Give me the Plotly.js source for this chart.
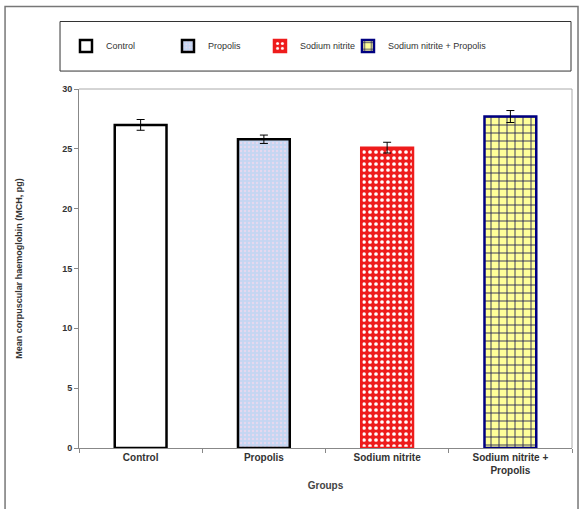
<!DOCTYPE html>
<html><head><meta charset="utf-8">
<script src="https://cdn.plot.ly/plotly-3.0.1.min.js"></script>
<style>body{margin:0;background:#fff}#c{width:579px;height:509px}</style>
</head><body><div id="c"></div>
<script>
const groups = ["Control", "Propolis", "Sodium nitrite", "Sodium nitrite +<br>Propolis"];
const legendNames = ["Control", "Propolis", "Sodium nitrite", "Sodium nitrite + Propolis"];
const means = [27.0, 25.8, 25.1, 27.7];
const sems = [0.45, 0.35, 0.45, 0.5];
const yTicks = [0, 5, 10, 15, 20, 25, 30];

const styles = [
  {color: "#ffffff", line: "#000000", pattern: {shape: ""}},
  {color: "#c9d9f2", line: "#000000", pattern: {shape: ".", fgcolor: "#e6d8ef", bgcolor: "#c4d6f2", size: 4, solidity: 0.3}},
  {color: "#ee1c1c", line: "#ee1c1c", pattern: {shape: ".", fgcolor: "#ffffff", bgcolor: "#ee1c1c", size: 6, solidity: 0.3}},
  {color: "#ffff99", line: "#000080", pattern: {shape: "+", fgcolor: "#1a1a50", bgcolor: "#ffff99", size: 8, solidity: 0.2}}
];

const legendIds = ["legend", "legend2", "legend3", "legend4"];
const legendX = [-0.0264, 0.1805, 0.3671, 0.5456];

const traces = groups.map((g, i) => ({
  type: "bar",
  x: [g],
  y: [means[i]],
  name: legendNames[i],
  legend: legendIds[i],
  width: 0.42,
  marker: {color: styles[i].color, line: {color: styles[i].line, width: 2.5}, pattern: styles[i].pattern},
  error_y: {type: "data", array: [sems[i]], visible: true, color: "#000", thickness: 1, width: 4},
  showlegend: true
}));

const layout = {
  width: 579, height: 509,
  margin: {l: 79, r: 7, t: 89, b: 61, autoexpand: false},
  paper_bgcolor: "#fff", plot_bgcolor: "#fff",
  font: {family: "Liberation Sans, Arial, sans-serif", size: 9, color: "#333"},
  xaxis: {
    categoryorder: "array", categoryarray: groups,
    showline: true, linecolor: "#888", linewidth: 1,
    ticks: "outside", tickson: "boundaries", ticklen: 4, tickcolor: "#888",
    tickfont: {size: 10, color: "#333", weight: "bold"},
    title: {text: "Groups", font: {size: 10, color: "#444", weight: "bold"}, standoff: 6},
    showgrid: false, zeroline: false
  },
  yaxis: {
    range: [0, 30], tickvals: yTicks, ticktext: yTicks.map(String),
    showline: true, linecolor: "#888", linewidth: 1,
    ticks: "outside", ticklen: 4, tickcolor: "#888",
    tickfont: {size: 9, color: "#333", weight: "bold"},
    title: {text: "Mean corpuscular haemoglobin (MCH, pg)", font: {size: 9, color: "#333", weight: "bold"}, standoff: 38},
    showgrid: false, zeroline: false
  },
  shapes: [
    {type: "rect", xref: "paper", yref: "paper", x0: -0.0385, x1: 0.998, y0: 1.05, y1: 1.188, line: {color: "#333", width: 1}},
    {type: "line", xref: "paper", yref: "paper", x0: 0, x1: 1, y0: 1, y1: 1, line: {color: "#aaa", width: 1}},
    {type: "line", xref: "paper", yref: "paper", x0: 1, x1: 1, y0: 0, y1: 1, line: {color: "#aaa", width: 1}},
    {type: "rect", xref: "paper", yref: "paper", x0: -0.150, x1: 1.0122, y0: -0.5, y1: 1.2297, line: {color: "#777", width: 1.5}}
  ]
};

legendIds.forEach((id, i) => {
  layout[id] = {
    orientation: "h", x: legendX[i], xanchor: "left", y: 1.12, yanchor: "middle",
    font: {size: 9, color: "#333"}, itemwidth: 30,
    bgcolor: "rgba(0,0,0,0)", borderwidth: 0
  };
});

Plotly.newPlot("c", traces, layout, {displayModeBar: false, staticPlot: true});
</script>
</body></html>
